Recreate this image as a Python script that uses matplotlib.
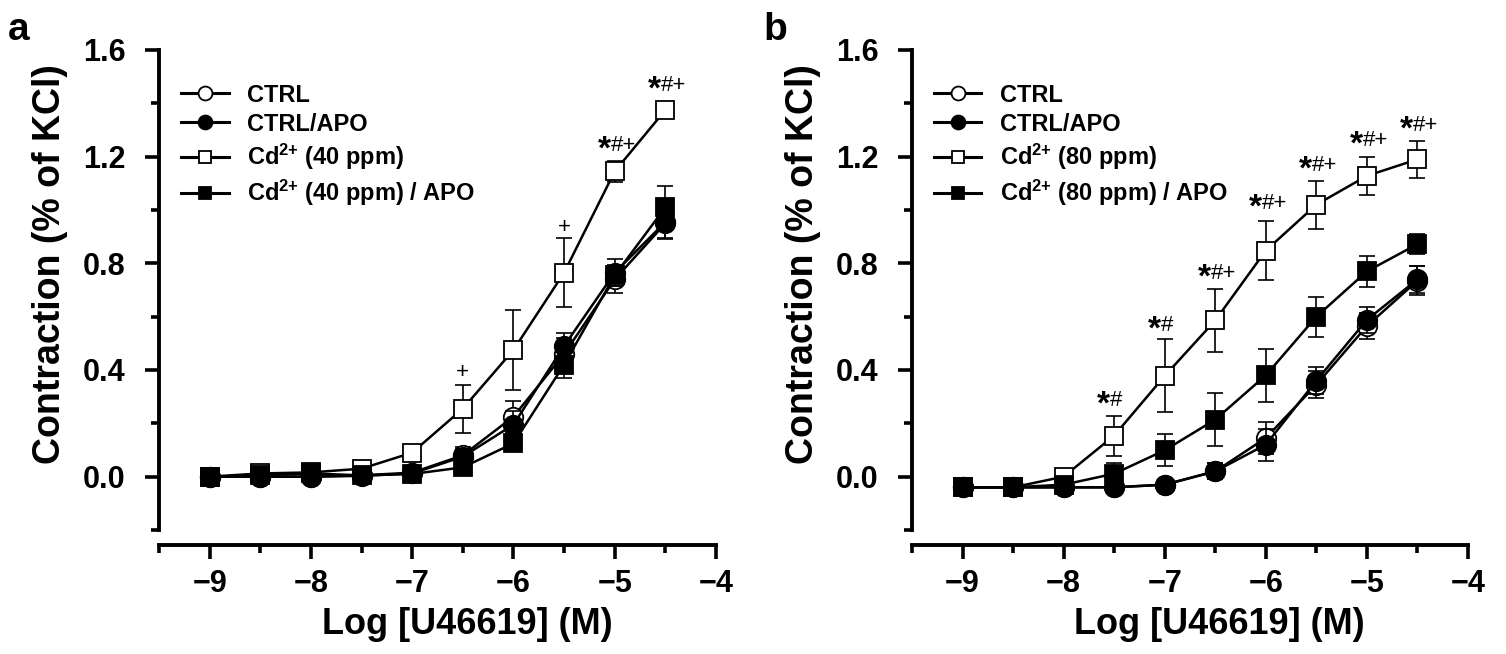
import matplotlib
matplotlib.use("Agg")
import matplotlib.pyplot as plt
from matplotlib.ticker import MultipleLocator
from matplotlib.lines import Line2D

plt.rcParams['font.family'] = ['Liberation Sans', 'DejaVu Sans']
plt.rcParams['font.weight'] = 'bold'
plt.rcParams['mathtext.fontset'] = 'custom'
plt.rcParams['mathtext.rm'] = 'Liberation Sans:bold'
plt.rcParams['mathtext.bf'] = 'Liberation Sans:bold'
plt.rcParams['mathtext.it'] = 'Liberation Sans:bold'

# ---------------- data ----------------
log_conc = [-9, -8.5, -8, -7.5, -7, -6.5, -6, -5.5, -5, -4.5]

# panel a
a_ctrl = [0.0, 0.0, 0.0, 0.005, 0.015, 0.08, 0.225, 0.46, 0.74, 0.95]
a_ctrl_err = [0.01, 0.01, 0.01, 0.01, 0.01, 0.03, 0.06, 0.06, 0.05, 0.06]
a_ctrlapo = [0.0, 0.0, 0.0, 0.003, 0.012, 0.075, 0.195, 0.49, 0.765, 0.955]
a_ctrlapo_err = [0.01, 0.01, 0.01, 0.01, 0.01, 0.03, 0.05, 0.05, 0.05, 0.06]
a_cd = [0.0, 0.012, 0.016, 0.03, 0.09, 0.255, 0.475, 0.765, 1.145, 1.375]
a_cd_err = [0.01, 0.01, 0.01, 0.01, 0.03, 0.09, 0.15, 0.13, 0.04, 0.03]
a_cdapo = [0.0, 0.005, 0.012, 0.005, 0.01, 0.035, 0.125, 0.42, 0.755, 1.01]
a_cdapo_err = [0.01, 0.01, 0.01, 0.01, 0.01, 0.02, 0.02, 0.05, 0.04, 0.08]

# panel b
b_ctrl = [-0.04, -0.04, -0.04, -0.04, -0.03, 0.02, 0.145, 0.345, 0.565, 0.735]
b_ctrl_err = [0.01, 0.01, 0.01, 0.01, 0.01, 0.03, 0.06, 0.05, 0.05, 0.055]
b_ctrlapo = [-0.04, -0.04, -0.04, -0.04, -0.03, 0.02, 0.12, 0.36, 0.588, 0.74]
b_ctrlapo_err = [0.01, 0.01, 0.01, 0.01, 0.01, 0.03, 0.06, 0.05, 0.05, 0.05]
b_cd = [-0.04, -0.04, 0.0, 0.154, 0.378, 0.586, 0.848, 1.02, 1.128, 1.19]
b_cd_err = [0.01, 0.01, 0.01, 0.075, 0.137, 0.117, 0.11, 0.09, 0.07, 0.07]
b_cdapo = [-0.04, -0.04, -0.03, 0.011, 0.099, 0.214, 0.38, 0.60, 0.77, 0.872]
b_cdapo_err = [0.01, 0.01, 0.01, 0.04, 0.06, 0.1, 0.1, 0.075, 0.057, 0.037]

# significance labels: (x, y, star, rest)
a_marks = [(-6.5, 0.39, '', '+'), (-5.5, 0.935, '', '+'),
           (-5.0, 1.225, '*', '#+'), (-4.5, 1.45, '*', '#+')]
b_marks = [(-7.5, 0.27, '*', '#'), (-7.0, 0.55, '*', '#'),
           (-6.5, 0.745, '*', '#+'), (-6.0, 1.007, '*', '#+'),
           (-5.5, 1.15, '*', '#+'), (-5.0, 1.245, '*', '#+'),
           (-4.5, 1.30, '*', '#+')]

yticks = [0.0, 0.4, 0.8, 1.2, 1.6]
xticks = [-9, -8, -7, -6, -5, -4]

W, H = 1506, 654
fig = plt.figure(figsize=(W / 100, H / 100), dpi=100)

def px_axes(l, r, t, b):
    return fig.add_axes([l / W, 1 - b / H, (r - l) / W, (b - t) / H])

ax_a = px_axes(159, 716, 50, 530)
ax_b = px_axes(912, 1468, 50, 530)

def draw(ax, series, marks, dose):
    styles = [
        ('CTRL', 'o', 'white'),
        ('CTRL/APO', 'o', 'black'),
        (r'Cd$^{2{+}}$ (%s ppm)' % dose, 's', 'white'),
        (r'Cd$^{2{+}}$ (%s ppm) / APO' % dose, 's', 'black'),
    ]
    order = [0, 1, 3, 2]
    for i in order:
        label, m, fc = styles[i]
        y, e = series[i]
        ax.errorbar(log_conc, y, yerr=e, fmt='none', ecolor='black',
                    elinewidth=1.2, capsize=6, capthick=1.2, zorder=2 + i)
        ax.plot(log_conc, y, color='black', lw=1.8, marker=m,
                markersize=14 if m == 'o' else 13.5, markerfacecolor=fc,
                markeredgecolor='black', markeredgewidth=1.3, zorder=3 + i)
    leg_handles = []
    for label, m, fc in styles:
        leg_handles.append(Line2D([], [], color='black', lw=2.2, marker=m,
                                  markersize=10 if m == 'o' else 9,
                                  markerfacecolor=fc, markeredgecolor='black',
                                  markeredgewidth=1.3))
    ax.legend(leg_handles, [s[0] for s in styles], loc='upper left',
              bbox_to_anchor=(0.04, 0.93), frameon=False,
              prop={'family': ['Liberation Sans'], 'weight': 'bold', 'size': 17},
              handlelength=2.0, handletextpad=0.8, labelspacing=0.26,
              borderaxespad=0, borderpad=0)

    for x, y, star, rest in marks:
        if star:
            ax.annotate(star, xy=(x, y), xytext=(-3, 0), textcoords='offset points',
                        ha='right', va='center', fontsize=24, fontweight='bold')
            ax.annotate(rest, xy=(x, y), xytext=(-3, 3), textcoords='offset points',
                        ha='left', va='center', fontsize=16, fontweight='normal')
        else:
            ax.annotate(rest, xy=(x, y), xytext=(0, 0), textcoords='offset points',
                        ha='center', va='center', fontsize=16, fontweight='normal')

    ax.set_xlim(-9.5, -4)
    ax.set_ylim(-0.2, 1.6)
    ax.spines['top'].set_visible(False)
    ax.spines['right'].set_visible(False)
    for s in ['left', 'bottom']:
        ax.spines[s].set_linewidth(2.8)
    ax.spines['bottom'].set_position(('outward', 11))
    ax.set_xticks(xticks)
    ax.xaxis.set_minor_locator(MultipleLocator(0.5))
    ax.set_yticks(yticks)
    ax.yaxis.set_minor_locator(MultipleLocator(0.2))
    ax.set_yticklabels(['%.1f' % v for v in yticks])
    ax.tick_params(which='major', direction='out', length=10, width=2.6,
                   labelsize=22)
    ax.tick_params(which='minor', direction='out', length=6, width=2.6)
    ax.tick_params(axis='y', which='major', pad=14)
    ax.tick_params(axis='x', which='major', pad=7)
    ax.set_xlabel('Log [U46619] (M)', fontsize=26, fontweight='bold')
    ax.set_ylabel('Contraction (% of KCl)', fontsize=27, fontweight='bold')
    ax.xaxis.set_label_coords(0.553, -0.197)
    ax.yaxis.set_label_coords(-0.196, 0.554)
    ax.xaxis.label.set_va('center')
    ax.yaxis.label.set_va('center')

draw(ax_a, [(a_ctrl, a_ctrl_err), (a_ctrlapo, a_ctrlapo_err),
            (a_cd, a_cd_err), (a_cdapo, a_cdapo_err)], a_marks, '40')
draw(ax_b, [(b_ctrl, b_ctrl_err), (b_ctrlapo, b_ctrlapo_err),
            (b_cd, b_cd_err), (b_cdapo, b_cdapo_err)], b_marks, '80')

fig.text(8 / W, 1 - 40 / H, 'a', fontsize=28, fontweight='bold', ha='left', va='baseline')
fig.text(763 / W, 1 - 40 / H, 'b', fontsize=28, fontweight='bold', ha='left', va='baseline')

fig.savefig('out.png', dpi=100)
